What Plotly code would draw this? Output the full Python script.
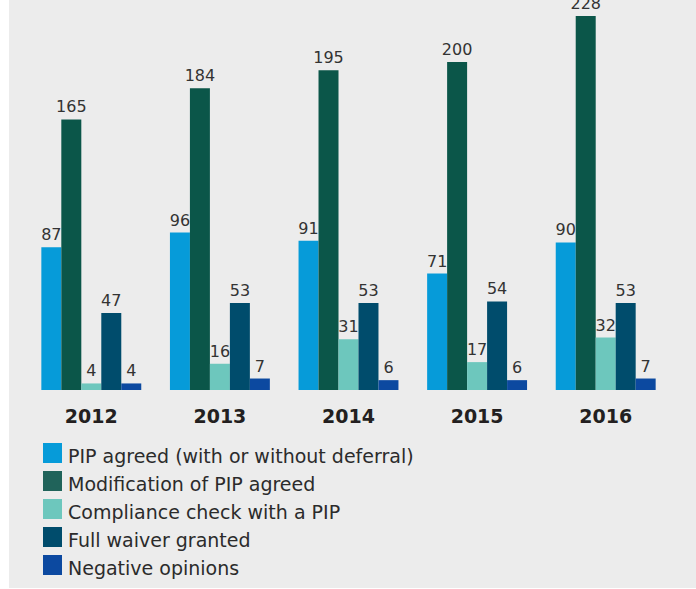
import plotly.graph_objects as go

years = ["2012", "2013", "2014", "2015", "2016"]
series_names = [
    "PIP agreed (with or without deferral)",
    "Modification of PIP agreed",
    "Compliance check with a PIP",
    "Full waiver granted",
    "Negative opinions",
]
pip_agreed = [87, 96, 91, 71, 90]
modification = [165, 184, 195, 200, 228]
compliance = [4, 16, 31, 17, 32]
full_waiver = [47, 53, 53, 54, 53]
negative = [4, 7, 6, 6, 7]
colors = ["#069bd9", "#0b5649", "#6dc7bd", "#004c6c", "#0c49a0"]
legend_colors = ["#069bd9", "#20635a", "#6dc7bd", "#004c6c", "#0c49a0"]

values = [pip_agreed, modification, compliance, full_waiver, negative]

W, H = 696, 589
ML, MR, MT, MB = 27, 26, 0, 199
PW = W - ML - MR
PH = H - MT - MB

def px(x):
    return (x - ML) / PW

def py(y):
    return (H - MB - y) / PH

FONT = "DejaVu Sans, Verdana, sans-serif"

fig = go.Figure()
for name, vals, col in zip(series_names, values, colors):
    fig.add_trace(go.Bar(
        x=years, y=vals, name=name,
        marker=dict(color=col, line=dict(width=0)),
        text=[str(v) for v in vals], textposition="outside",
        textfont=dict(family=FONT, size=16, color="#333333"),
        constraintext="none", cliponaxis=False, showlegend=False,
    ))

shapes = [
    dict(type="rect", xref="paper", yref="paper", x0=px(-5), x1=px(9), y0=py(600), y1=py(-5),
         fillcolor="white", line=dict(width=0), layer="below"),
    dict(type="rect", xref="paper", yref="paper", x0=px(-5), x1=px(700), y0=py(600), y1=py(588),
         fillcolor="white", line=dict(width=0), layer="below"),
]
annotations = []
for i, (name, col) in enumerate(zip(series_names, legend_colors)):
    cy = 453 + i * 28
    shapes.append(dict(type="rect", xref="paper", yref="paper",
                       x0=px(43), x1=px(62), y0=py(cy + 10), y1=py(cy - 10),
                       fillcolor=col, line=dict(width=0)))
    annotations.append(dict(xref="paper", yref="paper", x=px(66), y=py(cy + 3),
                            xanchor="left", yanchor="middle", showarrow=False,
                            text=name, font=dict(family=FONT, size=19, color="#2b2b2b")))

fig.update_layout(
    width=W, height=H,
    margin=dict(l=ML, r=MR, t=MT, b=MB, pad=0),
    paper_bgcolor="#ececec", plot_bgcolor="#ececec",
    barmode="group", bargap=0.223, bargroupgap=0,
    shapes=shapes, annotations=annotations,
    xaxis=dict(showgrid=False, zeroline=False, showline=False, ticks="",
               ticklabelstandoff=13,
               tickfont=dict(family=FONT, size=19, color="#231f20", weight="bold")),
    yaxis=dict(range=[0, 237.8], visible=False),
)
fig.write_html("out.html", config={"displayModeBar": False},
               post_script="document.body.style.margin='0';")
